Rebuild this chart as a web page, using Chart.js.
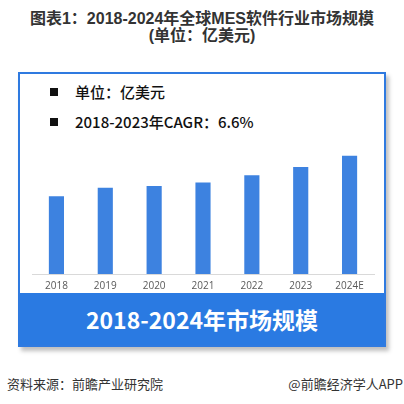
<!DOCTYPE html>
<html><head><meta charset="utf-8">
<script src="https://cdn.jsdelivr.net/npm/chart.js@4/dist/chart.umd.min.js"></script>
<style>
html,body{margin:0;padding:0;background:#fff;width:404px;height:404px;overflow:hidden;font-family:"Noto Sans CJK SC","Noto Sans",sans-serif;}
#title{position:absolute;left:0;top:10px;width:404px;text-align:center;font-weight:bold;font-size:16px;line-height:17px;color:#333;font-family:"Liberation Sans","Noto Sans CJK SC",sans-serif;}
#box{position:absolute;left:18px;top:72px;width:364px;height:271px;border:2px solid #2f7ae0;box-shadow:3px 4px 4px rgba(0,0,0,0.25);background:#fff;}
#banner{position:absolute;left:0;bottom:0;width:364px;height:52px;background:#2a7ae2;color:#fff;font-weight:bold;font-size:23px;text-align:center;line-height:52px;}
.leg{position:absolute;left:30px;font-size:15px;font-weight:500;color:#111;line-height:20px;}
.leg span.sq{display:inline-block;width:8px;height:8px;background:#111;margin-right:17px;vertical-align:2px;}
#wrap{position:absolute;left:0px;top:60px;width:362px;height:164px;}
#src{position:absolute;left:7px;top:374px;font-size:13px;color:#333;}
#app{position:absolute;right:1px;top:374px;font-size:13px;color:#333;}
</style></head>
<body>
<div id="title">图表1：2018-2024年全球MES软件行业市场规模<br>(单位：亿美元)</div>
<div id="box">
  <div class="leg" style="top:8px"><span class="sq"></span>单位：亿美元</div>
  <div class="leg" style="top:38px"><span class="sq"></span>2018-2023年CAGR：6.6%</div>
  <div id="wrap"><canvas id="c"></canvas></div>
  <div id="banner">2018-2024年市场规模</div>
</div>
<div id="src">资料来源：前瞻产业研究院</div>
<div id="app">@前瞻经济学人APP</div>
<script>
const categories = ["2018","2019","2020","2021","2022","2023","2024E"];
const marketSize = [94.4, 104.8, 106.8, 111.2, 120.0, 130.0, 143.6];

new Chart(document.getElementById('c'), {
  type: 'bar',
  data: {
    labels: categories,
    datasets: [{
      data: marketSize,
      backgroundColor: '#3d82e0',
      barPercentage: 0.31,
      categoryPercentage: 1.0
    }]
  },
  options: {
    responsive: true,
    maintainAspectRatio: false,
    animation: false,
    layout: {padding: {left: 12, right: 8, top: 0, bottom: 0}},
    plugins: {legend: {display: false}, tooltip: {enabled: false}},
    scales: {
      y: {display: false, min: 0, max: 170},
      x: {
        grid: {display: false, drawTicks: false},
        border: {display: true, color: '#d9d9d9', width: 1},
        ticks: {color: '#595959', font: {size: 10, family: 'Open Sans'}, padding: 6}
      }
    }
  }
});
</script>
</body></html>
